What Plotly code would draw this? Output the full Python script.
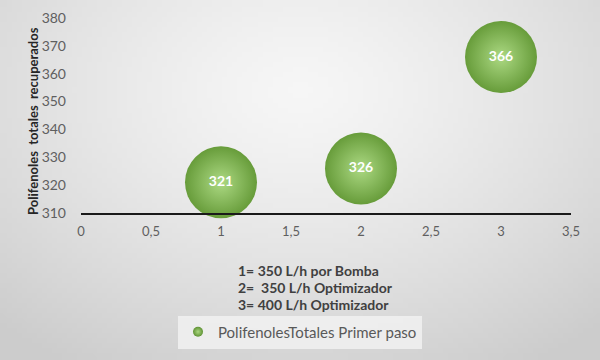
import plotly.graph_objects as go
import zlib, struct, base64, math

# Data
x_vals = [1, 2, 3]
y_vals = [321, 326, 366]
labels = ["321", "326", "366"]
series_name = "PolifenolesTotales Primer paso"
y_title = "Polifenoles  totales  recuperados"
notes = ["1= 350 L/h por Bomba", "2=  350 L/h Optimizador", "3= 400 L/h Optimizador"]

FONT = "Lato, 'Open Sans', sans-serif"

# background radial gradient image (decorative)
W, H = 120, 72
rows = []
for j in range(H):
    row = bytearray([0])
    for i in range(W):
        dx = (i / (W - 1) - 0.5) / 0.75
        dy = (j / (H - 1) - 0.25) / 0.9
        d = min(1.0, math.sqrt(dx * dx + dy * dy))
        c = int(round(246 - 42 * d ** 1.3))
        row += bytes([c, c, c])
    rows.append(bytes(row))
raw = b"".join(rows)
def chunk(t, d):
    return struct.pack(">I", len(d)) + t + d + struct.pack(">I", zlib.crc32(t + d) & 0xffffffff)
png = b"\x89PNG\r\n\x1a\n" + chunk(b"IHDR", struct.pack(">IIBBBBB", W, H, 8, 2, 0, 0, 0)) \
      + chunk(b"IDAT", zlib.compress(raw)) + chunk(b"IEND", b"")
bg_uri = "data:image/png;base64," + base64.b64encode(png).decode()

fig = go.Figure()

# bubbles
fig.add_trace(go.Scatter(
    x=x_vals, y=y_vals, mode="markers+text", name=series_name,
    text=labels, textposition="middle center",
    textfont=dict(family=FONT, size=14, color="white", weight="bold"),
    marker=dict(size=72, color="#679c3a",
                gradient=dict(type="radial", color="#acd983"),
                line=dict(width=0)),
    cliponaxis=False,
    showlegend=False,
))
# legend entry
fig.add_trace(go.Scatter(
    x=[None], y=[None], mode="markers", name=series_name,
    marker=dict(size=10, color="#5f9234", gradient=dict(type="radial", color="#aad77f")),
))

fig.update_layout(
    width=600, height=360,
    margin=dict(l=81, r=29, t=18, b=147, autoexpand=False),
    paper_bgcolor="#dedede", plot_bgcolor="rgba(0,0,0,0)",
    separators=",.",
    font=dict(family=FONT, size=12, color="#595959"),
    images=[dict(source=bg_uri, xref="paper", yref="paper",
                 x=-81 / 490, y=1 + 18 / 195, sizex=600 / 490, sizey=360 / 195,
                 xanchor="left", yanchor="top", sizing="stretch", layer="below")],
    xaxis=dict(range=[0, 3.5], dtick=0.5, tick0=0, showgrid=False, zeroline=False,
               showline=True, linecolor="#1a1a1a", linewidth=2,
               ticks="", ticklabelstandoff=5,
               tickfont=dict(size=13, color="#5f5f5f")),
    yaxis=dict(range=[310, 380], dtick=10, showgrid=False, zeroline=False,
               showline=False, ticks="", ticklabelstandoff=14,
               tickfont=dict(size=14, color="#5f5f5f")),
    legend=dict(orientation="h", x=(300 - 81) / 490, xanchor="center", yref="container",
                y=1 - 332 / 360, yanchor="middle",
                bgcolor="rgba(240,240,240,0.9)", borderwidth=0,
                font=dict(size=15, color="#595959"), itemwidth=30),
)

fig.add_annotation(xref="paper", yref="paper", x=(33 - 81) / 490, xanchor="center",
                   y=(213 - 121) / 195, yanchor="middle", textangle=-90,
                   showarrow=False, text=y_title,
                   font=dict(size=13, color="#262626", weight="bold"))

for i, txt in enumerate(notes):
    fig.add_annotation(xref="paper", yref="paper", x=(236 - 81) / 490, xanchor="left",
                       y=-(270 - 213 + i * 17) / 195, yanchor="middle", showarrow=False,
                       text=txt, font=dict(size=14, color="#404040", weight="bold"))

fig.write_html("out.html")
